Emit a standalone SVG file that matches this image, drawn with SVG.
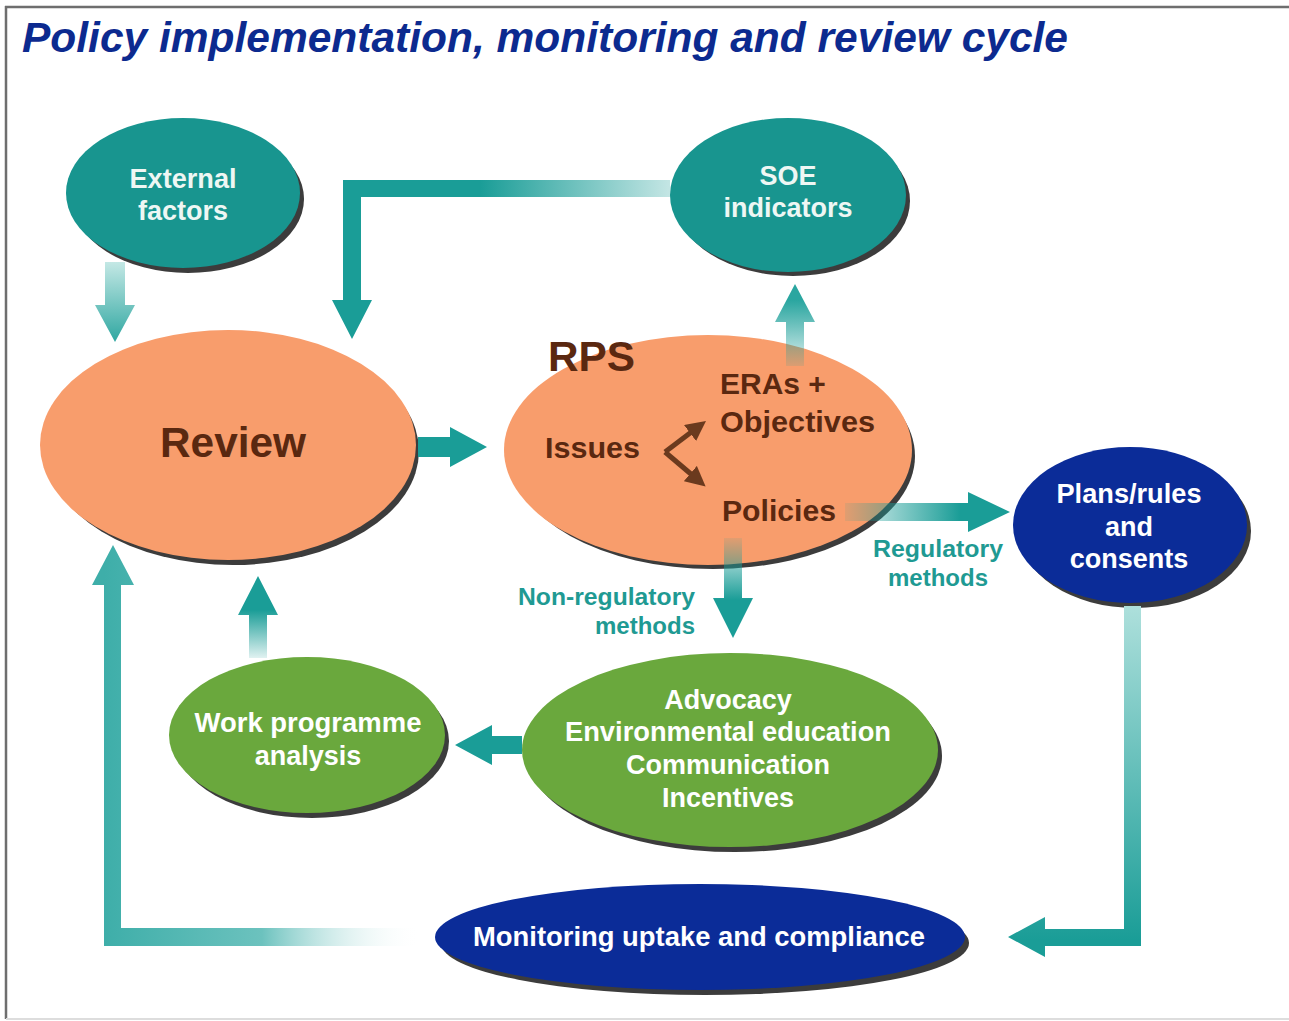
<svg xmlns="http://www.w3.org/2000/svg" width="1289" height="1021" viewBox="0 0 1289 1021">
<style>
text{font-family:"Liberation Sans",Arial,sans-serif;font-weight:bold}
.lt{fill:#eef7f4;font-size:27px;text-anchor:middle}
.wt{fill:#ffffff;font-size:27px;text-anchor:middle}
.br{fill:#5a2810}
.lab{fill:#1f9a93;font-size:24px}
.sh{fill:#3c3c3c}
.teal{fill:#18958f}
.orange{fill:#f89d6c}
.green{fill:#6aa83d}
.blue{fill:#0b2c98}
.solid{fill:#1a9d97}
</style>
<defs>
<linearGradient id="gA" gradientUnits="userSpaceOnUse" x1="0" y1="262" x2="0" y2="342"><stop offset="0" stop-color="#c4e8e5"/><stop offset="1" stop-color="#2fa7a1"/></linearGradient>
<linearGradient id="gB" gradientUnits="userSpaceOnUse" x1="480" y1="0" x2="672" y2="0"><stop offset="0" stop-color="#1a9d97"/><stop offset="1" stop-color="#1a9d97" stop-opacity="0.25"/></linearGradient>
<linearGradient id="gD" gradientUnits="userSpaceOnUse" x1="0" y1="368" x2="0" y2="300"><stop offset="0" stop-color="#1a9d97" stop-opacity="0.1"/><stop offset="1" stop-color="#2aa6a0"/></linearGradient>
<linearGradient id="gE" gradientUnits="userSpaceOnUse" x1="845" y1="0" x2="960" y2="0"><stop offset="0" stop-color="#1a9d97" stop-opacity="0.1"/><stop offset="1" stop-color="#1a9d97"/></linearGradient>
<linearGradient id="gF" gradientUnits="userSpaceOnUse" x1="0" y1="538" x2="0" y2="600"><stop offset="0" stop-color="#1a9d97" stop-opacity="0.1"/><stop offset="1" stop-color="#1a9d97"/></linearGradient>
<linearGradient id="gH" gradientUnits="userSpaceOnUse" x1="0" y1="660" x2="0" y2="610"><stop offset="0" stop-color="#1a9d97" stop-opacity="0.1"/><stop offset="1" stop-color="#1a9d97"/></linearGradient>
<linearGradient id="gI" gradientUnits="userSpaceOnUse" x1="0" y1="605" x2="0" y2="940"><stop offset="0" stop-color="#aee0dc"/><stop offset="1" stop-color="#1a9d97"/></linearGradient>
<linearGradient id="gJ" gradientUnits="userSpaceOnUse" x1="104" y1="0" x2="420" y2="0"><stop offset="0" stop-color="#3eaea9"/><stop offset="0.5" stop-color="#6cc2be"/><stop offset="1" stop-color="#ffffff" stop-opacity="0"/></linearGradient>
<marker id="bh" markerWidth="4" markerHeight="4" refX="2" refY="2" orient="auto" markerUnits="strokeWidth"><path d="M0,0 L4,2 L0,4 Z" fill="#6b3a1e"/></marker>
</defs>
<rect x="0" y="0" width="1289" height="1021" fill="#ffffff"/>
<g id="frame">
<line x1="5" y1="7" x2="1289" y2="7" stroke="#6e6e6e" stroke-width="2.5"/>
<line x1="6" y1="6" x2="6" y2="1019" stroke="#6e6e6e" stroke-width="2.5"/>
<line x1="6" y1="1019" x2="1289" y2="1019" stroke="#dddddd" stroke-width="2"/>
</g>
<text id="title" x="22" y="52" font-size="42" font-style="italic" fill="#0c2a8f" textLength="1046" lengthAdjust="spacingAndGlyphs">Policy implementation, monitoring and review cycle</text>

<g id="external-factors">
<ellipse cx="188" cy="199" rx="116" ry="74" class="sh"/>
<ellipse cx="183" cy="193" rx="117" ry="75" class="teal"/>
<text class="lt" x="183" y="188" textLength="107" lengthAdjust="spacingAndGlyphs">External</text>
<text class="lt" x="183" y="220">factors</text>
</g>

<g id="soe-indicators">
<ellipse cx="793" cy="201" rx="117" ry="75" class="sh"/>
<ellipse cx="788" cy="195" rx="118" ry="77" class="teal"/>
<text class="lt" x="788" y="185">SOE</text>
<text class="lt" x="788" y="217" textLength="129" lengthAdjust="spacingAndGlyphs">indicators</text>
</g>

<g id="review">
<ellipse cx="233" cy="451" rx="186" ry="114" class="sh"/>
<ellipse cx="228" cy="445" rx="188" ry="115" class="orange"/>
<text class="br" x="233" y="457" font-size="42" text-anchor="middle" textLength="146" lengthAdjust="spacingAndGlyphs">Review</text>
</g>

<g id="rps">
<ellipse cx="713" cy="456" rx="202" ry="113" class="sh"/>
<ellipse cx="708" cy="450" rx="204" ry="115" class="orange"/>
<text class="br" x="548" y="371" font-size="42" textLength="87" lengthAdjust="spacingAndGlyphs">RPS</text>
<text class="br" x="545" y="458" font-size="30" textLength="95" lengthAdjust="spacingAndGlyphs">Issues</text>
<text class="br" x="720" y="394" font-size="30">ERAs +</text>
<text class="br" x="720" y="432" font-size="30" textLength="155" lengthAdjust="spacingAndGlyphs">Objectives</text>
<text class="br" x="722" y="521" font-size="30" textLength="114" lengthAdjust="spacingAndGlyphs">Policies</text>
<path d="M665,452 L698,427" stroke="#6b3a1e" stroke-width="5" fill="none" marker-end="url(#bh)"/>
<path d="M665,452 L698,480" stroke="#6b3a1e" stroke-width="5" fill="none" marker-end="url(#bh)"/>
</g>

<g id="plans-rules">
<ellipse cx="1135" cy="531" rx="116" ry="77" class="sh"/>
<ellipse cx="1130" cy="525" rx="117" ry="78" class="blue"/>
<text class="wt" x="1129" y="503" textLength="145" lengthAdjust="spacingAndGlyphs">Plans/rules</text>
<text class="wt" x="1129" y="536">and</text>
<text class="wt" x="1129" y="568">consents</text>
</g>

<g id="work-programme">
<ellipse cx="312" cy="741" rx="137" ry="77" class="sh"/>
<ellipse cx="307" cy="735" rx="138" ry="78" class="green"/>
<text class="wt" x="308" y="732" textLength="227" lengthAdjust="spacingAndGlyphs">Work programme</text>
<text class="wt" x="308" y="765">analysis</text>
</g>

<g id="non-regulatory-actions">
<ellipse cx="735" cy="756" rx="207" ry="96" class="sh"/>
<ellipse cx="730" cy="750" rx="208" ry="97" class="green"/>
<text class="wt" x="728" y="709">Advocacy</text>
<text class="wt" x="728" y="741" textLength="326" lengthAdjust="spacingAndGlyphs">Environmental education</text>
<text class="wt" x="728" y="774">Communication</text>
<text class="wt" x="728" y="807">Incentives</text>
</g>

<g id="monitoring">
<ellipse cx="705" cy="943" rx="264" ry="52" class="sh"/>
<ellipse cx="700" cy="937" rx="265" ry="53" class="blue"/>
<text class="wt" x="699" y="946" textLength="452" lengthAdjust="spacingAndGlyphs">Monitoring uptake and compliance</text>
</g>

<g id="connectors">
<path d="M105,262 H125 V305 H135 L115,342 L95,305 H105 Z" fill="url(#gA)"/>
<path d="M670,180 V197 H361 V300 H372 L352,339 L332,300 H343 V180 Z" fill="url(#gB)"/>
<path d="M418,437 H450 V427 L487,447 L450,467 V457 H418 Z" class="solid"/>
<path d="M786,366 V322 H775 L795,284 L815,322 H804 V366 Z" fill="url(#gD)"/>
<path d="M845,503 H968 V492 L1010,512 L968,532 V521 H845 Z" fill="url(#gE)"/>
<path d="M724,538 H742 V598 H753 L733,638 L713,598 H724 Z" fill="url(#gF)"/>
<path d="M522,736 H492 V725 L455,745 L492,765 V754 H522 Z" class="solid"/>
<path d="M249,658 V615 H238 L258,576 L278,615 H267 V658 Z" fill="url(#gH)"/>
<path d="M1124,606 H1141 V946 H1045 V957 L1008,937 L1045,917 V929 H1124 Z" fill="url(#gI)"/>
<path d="M420,928 V946 H104 V585 H92 L113,545 L134,585 H121 V928 Z" fill="url(#gJ)"/>
</g>

<g id="labels">
<text class="lab" x="938" y="557" text-anchor="middle" textLength="130" lengthAdjust="spacingAndGlyphs">Regulatory</text>
<text class="lab" x="938" y="586" text-anchor="middle">methods</text>
<text class="lab" x="695" y="605" text-anchor="end" textLength="177" lengthAdjust="spacingAndGlyphs">Non-regulatory</text>
<text class="lab" x="695" y="634" text-anchor="end">methods</text>
</g>
</svg>
